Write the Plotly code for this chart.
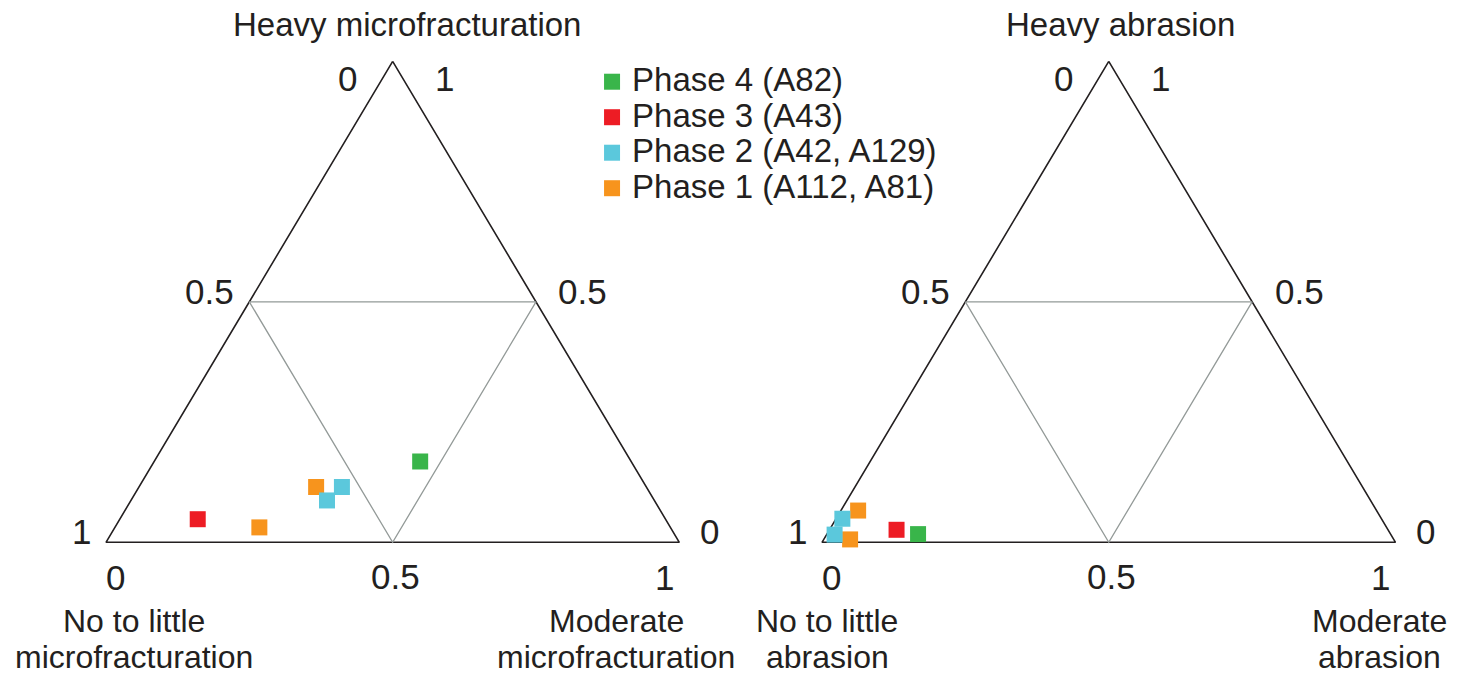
import plotly.graph_objects as go

FONT = "Liberation Sans, Arial, sans-serif"
INK = "#231f20"

# ---- data -----------------------------------------------------------------
phase_names = ["Phase 1 (A112, A81)", "Phase 2 (A42, A129)", "Phase 3 (A43)", "Phase 4 (A82)"]
phase_colors = ["#f7941d", "#5bc8dc", "#ed1c24", "#39b54a"]

# Microfracturation proportions (heavy, moderate, no-to-little) per phase
micro_heavy = [[0.031, 0.115], [0.115, 0.087], [0.048], [0.168]]
micro_moderate = [[0.252, 0.309], [0.354, 0.342], [0.136], [0.464]]
micro_little = [[0.717, 0.576], [0.531, 0.571], [0.816], [0.368]]

# Abrasion proportions (heavy, moderate, no-to-little) per phase
abr_heavy = [[0.066, 0.006], [0.049, 0.016], [0.026], [0.017]]
abr_moderate = [[0.030, 0.046], [0.011, 0.014], [0.117], [0.159]]
abr_little = [[0.904, 0.948], [0.940, 0.971], [0.857], [0.824]]

panel_titles = ["Heavy microfracturation", "Heavy abrasion"]
little_labels = ["No to little<br>microfracturation", "No to little<br>abrasion"]
moderate_labels = ["Moderate<br>microfracturation", "Moderate<br>abrasion"]
tick_labels = ["0", "0.5", "1"]


# ---- helpers ----------------------------------------------------------------
def to_xy(h, m, l):
    """ternary (heavy, moderate, little) -> cartesian triangle coords"""
    xs, ys = [], []
    for a, b, c in zip(h, m, l):
        s = a + b + c
        xs.append((b + a / 2) / s)
        ys.append(a / s)
    return xs, ys


def pt(h, m, l):
    x, y = to_xy([h], [m], [l])
    return x[0], y[0]


fig = go.Figure()

panels = [
    ("", micro_heavy, micro_moderate, micro_little),
    ("2", abr_heavy, abr_moderate, abr_little),
]

annotations = []
for p, (ax, H, M, L) in enumerate(panels):
    xa, ya = "x" + ax, "y" + ax
    # outer triangle: top, bottom-right, bottom-left
    ox, oy = to_xy([1, 0, 0, 1], [0, 1, 0, 0], [0, 0, 1, 0])
    fig.add_trace(go.Scatter(x=ox, y=oy, mode="lines", xaxis=xa, yaxis=ya,
                             line=dict(color=INK, width=1.6), showlegend=False,
                             hoverinfo="skip"))
    # inner (medial) triangle
    ix, iy = to_xy([0.5, 0.5, 0, 0.5], [0, 0.5, 0.5, 0], [0.5, 0, 0.5, 0.5])
    fig.add_trace(go.Scatter(x=ix, y=iy, mode="lines", xaxis=xa, yaxis=ya,
                             line=dict(color="#939a98", width=1.3), showlegend=False,
                             hoverinfo="skip"))
    for k in range(len(phase_names)):
        px, py = to_xy(H[k], M[k], L[k])
        fig.add_trace(go.Scatter(
            x=px, y=py, mode="markers", xaxis=xa, yaxis=ya,
            name='<span style="font-size:33px">' + phase_names[k] + "</span>",
            legendgroup=phase_names[k], showlegend=(p == 0),
            marker=dict(symbol="square", size=16, color=phase_colors[k],
                        line=dict(width=0)),
        ))

    def lab(text, where, dx, dy, size=35):
        annotations.append(dict(
            text=text, x=where[0], y=where[1], xref=xa, yref=ya,
            xshift=dx, yshift=dy, showarrow=False, align="center",
            xanchor="center", yanchor="middle",
            font=dict(size=size, family=FONT, color=INK)))

    top = pt(1, 0, 0)
    bl = pt(0, 0, 1)
    br = pt(0, 1, 0)
    lmid = pt(0.5, 0, 0.5)
    rmid = pt(0.5, 0.5, 0)
    bmid = pt(0, 0.5, 0.5)

    lab(panel_titles[p], top, 14 if p == 0 else 12, 37, 33)
    lab(tick_labels[0], top, -45, -17)
    lab(tick_labels[2], top, 52, -17)
    lab(tick_labels[1], lmid, -40, 10)
    lab(tick_labels[1], rmid, 47, 10)
    lab(tick_labels[2], bl, -25, 11)
    lab(tick_labels[0], bl, 9, -35)
    lab(tick_labels[1], bmid, 3, -34)
    lab(tick_labels[0], br, 30, 11)
    lab(tick_labels[2], br, -15, -35)
    # two-line corner names, one annotation per line for tighter spacing
    for j, line in enumerate(little_labels[p].split("<br>")):
        lab(line, bl, 28 if p == 0 else 5, -79 - 36 * j, 32)
    for j, line in enumerate(moderate_labels[p].split("<br>")):
        lab(line, br, -63 if p == 0 else -16, -79 - 36 * j, 32)

axis_common = dict(visible=False, showgrid=False, zeroline=False, fixedrange=True)
fig.update_layout(
    width=1468, height=677,
    margin=dict(l=0, r=0, t=0, b=0),
    paper_bgcolor="white", plot_bgcolor="white",
    font=dict(family=FONT, color=INK),
    xaxis=dict(domain=[0, 0.5], range=[-0.1849, 1.0954], **axis_common),
    yaxis=dict(domain=[0, 1], range=[-0.28004, 1.12744], anchor="x", **axis_common),
    xaxis2=dict(domain=[0.5, 1], range=[-0.15344, 1.12642], anchor="y2", **axis_common),
    yaxis2=dict(domain=[0, 1], range=[-0.28004, 1.12744], anchor="x2", **axis_common),
    legend=dict(x=0.4033, y=0.9129, xanchor="left", yanchor="top",
                traceorder="reversed", itemsizing="trace",
                font=dict(size=25, family=FONT, color=INK),
                bgcolor="rgba(0,0,0,0)", borderwidth=0),
    annotations=annotations,
    showlegend=True,
)

fig.write_html(
    "out.html",
    config={"displayModeBar": False},
    post_script="document.body.style.margin='0';document.body.style.overflow='hidden';",
)
